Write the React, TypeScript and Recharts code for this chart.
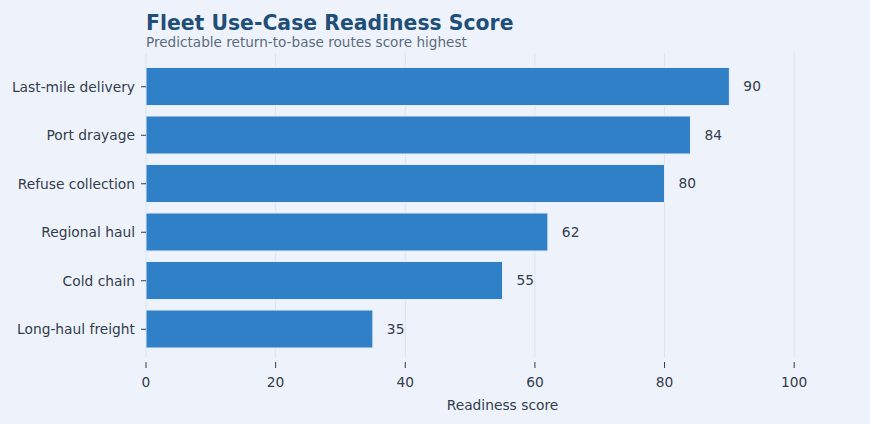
import React from 'react';
import { BarChart, Bar, XAxis, YAxis, CartesianGrid, LabelList } from 'recharts';

const categories = [
  'Last-mile delivery',
  'Port drayage',
  'Refuse collection',
  'Regional haul',
  'Cold chain',
  'Long-haul freight',
];
const scores = [90, 84, 80, 62, 55, 35];
const xTicks = [0, 20, 40, 60, 80, 100];

const data = categories.map((name, i) => ({ name, value: scores[i] }));

const FONT = '"DejaVu Sans", sans-serif';
const TEXT = '#333d4b';
const FS = 13.8;

const XTick = (props: any) => {
  const { x, y, payload } = props;
  return (
    <g>
      <line x1={x} x2={x} y1={y + 5} y2={y + 11} stroke={TEXT} strokeWidth={1} />
      <text x={x} y={y + 30} textAnchor="middle" fontSize={FS} fill={TEXT} fontFamily={FONT}>
        {payload.value}
      </text>
    </g>
  );
};

export default function App() {
  return (
    <div
      style={{
        position: 'absolute',
        left: 0,
        top: 0,
        width: 870,
        height: 424,
        background: '#eef3fb',
        fontFamily: FONT,
      }}
    >
      <svg width={870} height={60} style={{ position: 'absolute', left: 0, top: 0 }}>
        <text x={146} y={29.5} fontSize={20.4} fontWeight="bold" fill="#1f4e79" fontFamily={FONT}>
          Fleet Use-Case Readiness Score
        </text>
        <text x={146} y={46.5} fontSize={13.6} fill="#5b6b7d" fontFamily={FONT}>
          Predictable return-to-base routes score highest
        </text>
      </svg>
      <div style={{ position: 'absolute', left: 0, top: 0 }}>
        <BarChart
          width={870}
          height={424}
          data={data}
          layout="vertical"
          margin={{ top: 53, right: 11, bottom: 0, left: 6 }}
        >
          <CartesianGrid horizontal={false} vertical syncWithTicks stroke="#dce3ed" strokeWidth={1} />
          <XAxis
            type="number"
            domain={[0, 110]}
            ticks={xTicks}
            axisLine={false}
            tickLine={false}
            tickSize={0}
            tickMargin={0}
            height={67}
            tick={<XTick />}
            interval={0}
            label={{
              value: 'Readiness score',
              position: 'insideBottom',
              offset: 14,
              fontSize: FS,
              fill: TEXT,
              fontFamily: FONT,
            }}
          />
          <YAxis
            type="category"
            dataKey="name"
            width={140}
            axisLine={false}
            tickLine={{ stroke: TEXT }}
            tickSize={5}
            tickMargin={6}
            padding={{ top: 9.5, bottom: 3.5 }}
            tick={{ fontSize: FS, fill: TEXT, fontFamily: FONT }}
            interval={0}
          />
          <Bar
            dataKey="value"
            fill="#3080c8"
            stroke="#e6eefa"
            strokeWidth={1}
            barSize={38}
            isAnimationActive={false}
          >
            <LabelList
              dataKey="value"
              position="right"
              offset={14}
              fontSize={FS}
              fill={TEXT}
              fontFamily={FONT}
            />
          </Bar>
        </BarChart>
      </div>
    </div>
  );
}
